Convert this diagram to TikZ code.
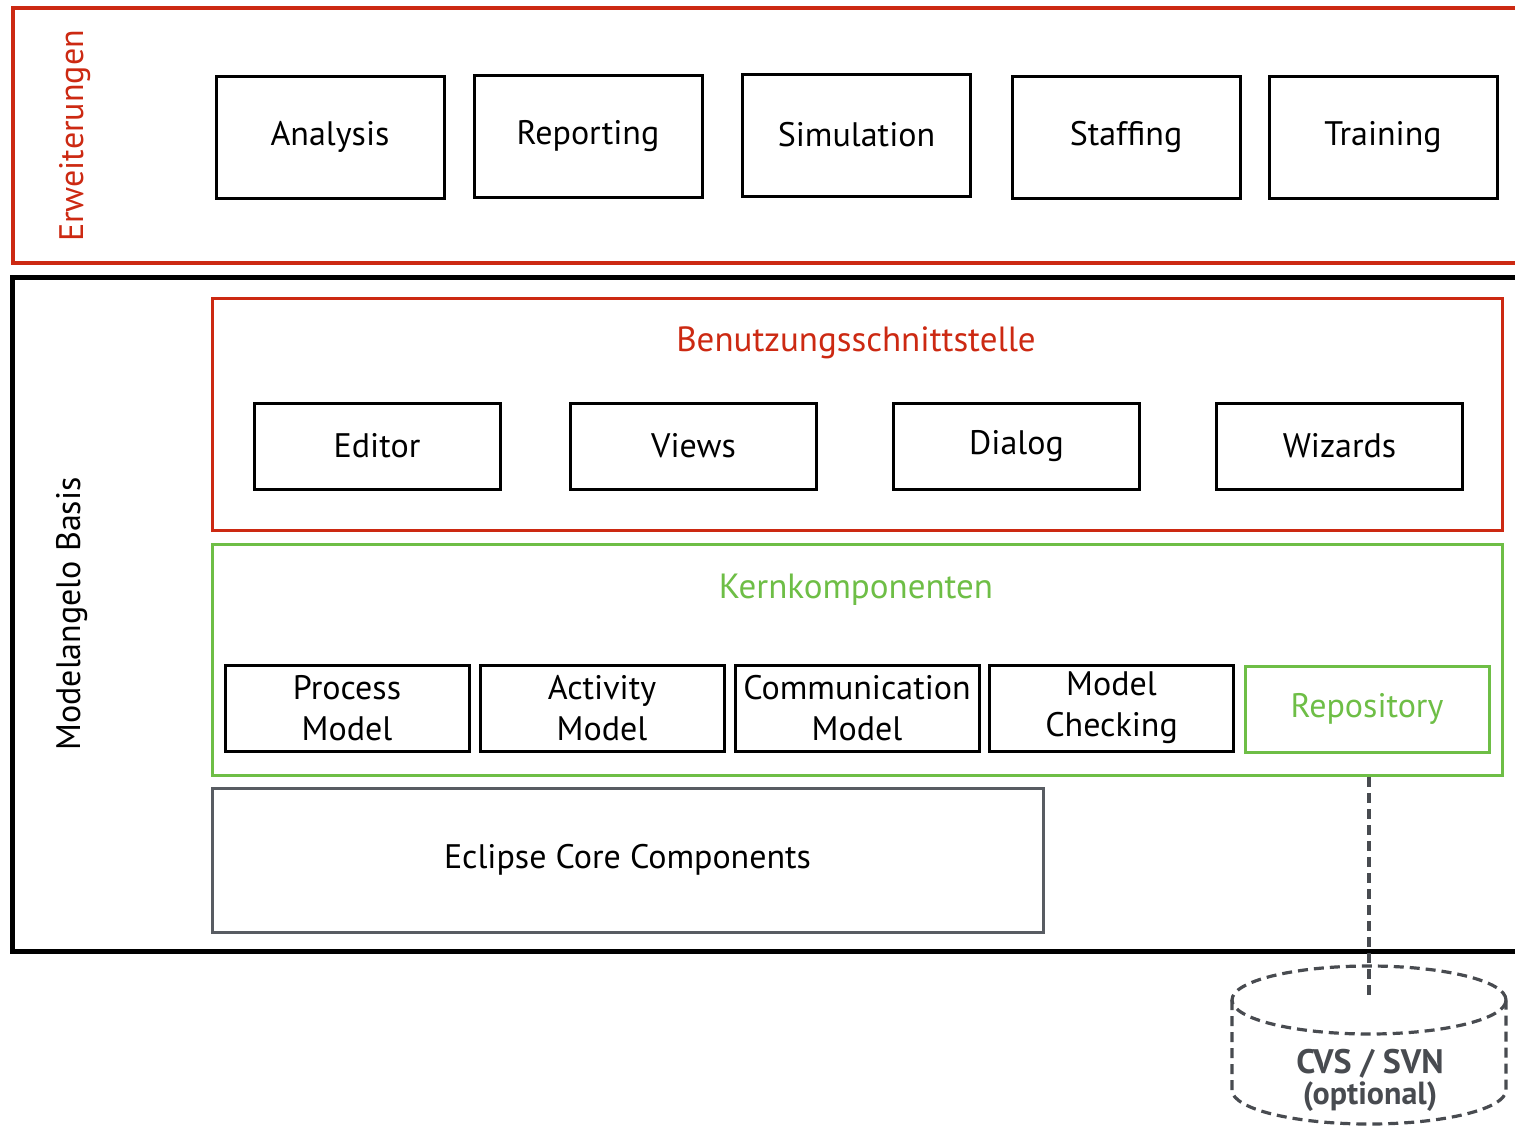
\documentclass[tikz,border=0pt]{standalone}
\usepackage{fontspec}
\setmainfont{PT Sans}
\definecolor{cred}{RGB}{204,41,18}
\definecolor{cgreen}{RGB}{110,190,70}
\definecolor{cgray}{RGB}{88,92,98}
\definecolor{cdgray}{RGB}{72,75,80}
\begin{document}
\begin{tikzpicture}[x=0.5pt,y=-0.5pt,
  every node/.style={inner sep=0pt, outer sep=0pt, font=\fontsize{17}{20.5}\selectfont},
  box/.style={draw=black, line width=1.5pt, minimum width=114pt, minimum height=61pt},
  uibox/.style={draw=black, line width=1.5pt, minimum width=123pt, minimum height=43pt},
  kbox/.style={draw=black, line width=1.5pt, minimum width=122pt, minimum height=43pt, align=center},
  frame/.style={line width=#1},
  dbline/.style={cdgray, line width=1.6pt, dash pattern=on 5pt off 3pt},
]
\clip (0,0) rectangle (1515,1125);
% outer frames
\node[draw=cred, frame=2pt, minimum width=758.5pt, minimum height=127.5pt] (erw) at (771.5,135.5) {};
\node[draw=black, frame=2.5pt, minimum width=759pt, minimum height=337pt] (basis) at (771,614) {};
\node[text=cred, rotate=90] (erwlbl) at (75,136) {Erweiterungen};
\node[rotate=90] (basislbl) at (72,614) {Modelangelo Basis};
% extensions
\node[box] (analysis) at (330,137) {Analysis};
\node[box] (reporting) at (588,136) {Reporting};
\node[box] (simulation) at (856.5,135) {Simulation};
\node[box] (staffing) at (1126,137) {Staffing};
\node[box] (training) at (1383,137) {Training};
% UI
\node[draw=cred, frame=1.5pt, minimum width=645pt, minimum height=116pt] (ui) at (857,414) {};
\node[text=cred, font=\fontsize{17.5}{21}\selectfont] (uilbl) at (856,343) {Benutzungsschnittstelle};
\node[uibox] (editor) at (377,446) {Editor};
\node[uibox] (views) at (693.5,446) {Views};
\node[uibox] (dialog) at (1016.5,446) {Dialog};
\node[uibox] (wizards) at (1339.5,446) {Wizards};
% Kern
\node[draw=cgreen, frame=1.5pt, minimum width=645pt, minimum height=115.5pt] (kern) at (857,659.5) {};
\node[text=cgreen, font=\fontsize{17.5}{21}\selectfont] (kernlbl) at (856,590) {Kernkomponenten};
\node[kbox] (process) at (347,708) {Process\\Model};
\node[kbox] (activity) at (602,708) {Activity\\Model};
\node[kbox] (comm) at (857,708) {Communication\\Model};
\node[kbox] (check) at (1111.5,708) {Model\\Checking};
\node[kbox, draw=cgreen, text=cgreen] (repo) at (1367,709) {Repository};
% Eclipse
\node[draw=cgray, frame=1.5pt, minimum width=415.5pt, minimum height=72pt] (eclipse) at (627.5,860) {Eclipse Core Components};
% cylinder
\coordinate (dbtop) at (1369,997);
\draw[dbline] (1369,1000) ellipse [x radius=68.5pt, y radius=17pt];
\draw[dbline] (1232,1000) -- (1232,1090) arc[start angle=180, end angle=360, x radius=68.5pt, y radius=17pt] -- (1506,1000);
\node[text=cdgray, font=\fontsize{17}{20}\selectfont\bfseries] (cvs) at (1370,1064) {CVS / SVN};
\node[text=cdgray, font=\fontsize{16}{19}\selectfont\bfseries] (opt) at (1370,1097) {(optional)};
\draw[dbline] (kern.south -| repo.south) ++(2,2) -- (dbtop);
\end{tikzpicture}
\end{document}
